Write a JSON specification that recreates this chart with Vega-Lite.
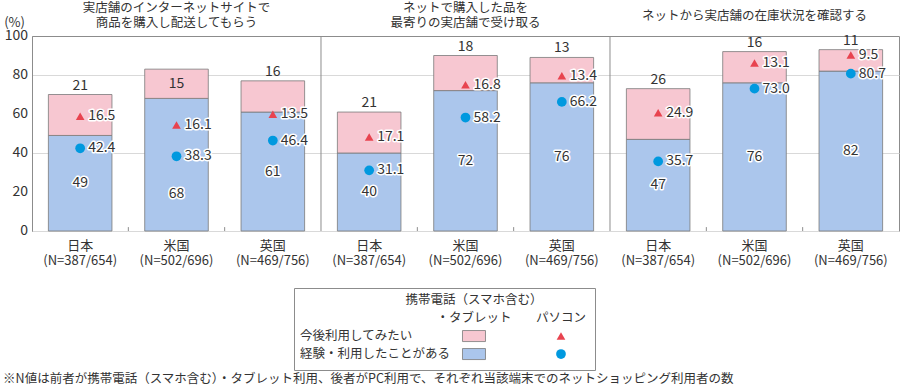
{
  "$schema": "https://vega.github.io/schema/vega-lite/v6.json",
  "padding": {"left": 3, "top": 1, "right": 2, "bottom": 0},
  "config": {
    "font": "Noto Sans CJK JP",
    "view": {"stroke": "#8c8c8c"},
    "axis": {"labelColor": "#333333", "titleColor": "#333333", "domainColor": "#8c8c8c", "tickColor": "#8c8c8c"},
    "text": {"font": "Noto Sans CJK JP", "color": "#333333"}
  },
  "title": {
    "text": "※N値は前者が携帯電話（スマホ含む）・タブレット利用、後者がPC利用で、それぞれ当該端末でのネットショッピング利用者の数",
    "orient": "bottom", "anchor": "start", "frame": "bounds",
    "fontSize": 12.5, "fontWeight": "normal", "color": "#333333", "offset": 2
  },
  "spacing": 19,
  "vconcat": [
    {
      "width": 867,
      "height": 195,
      "data": {"values": [
        {"pid": 1, "panel": "実店舗のインターネットサイトで|商品を購入し配送してもらう", "country": "日本", "xkey": "1|日本|(N=387/654)", "mExp": 49, "mWant": 21, "pcExp": 42.4, "pcWant": 16.5},
        {"pid": 1, "panel": "実店舗のインターネットサイトで|商品を購入し配送してもらう", "country": "米国", "xkey": "1|米国|(N=502/696)", "mExp": 68, "mWant": 15, "pcExp": 38.3, "pcWant": 16.1},
        {"pid": 1, "panel": "実店舗のインターネットサイトで|商品を購入し配送してもらう", "country": "英国", "xkey": "1|英国|(N=469/756)", "mExp": 61, "mWant": 16, "pcExp": 46.4, "pcWant": 13.5},
        {"pid": 2, "panel": "ネットで購入した品を|最寄りの実店舗で受け取る", "country": "日本", "xkey": "2|日本|(N=387/654)", "mExp": 40, "mWant": 21, "pcExp": 31.1, "pcWant": 17.1},
        {"pid": 2, "panel": "ネットで購入した品を|最寄りの実店舗で受け取る", "country": "米国", "xkey": "2|米国|(N=502/696)", "mExp": 72, "mWant": 18, "pcExp": 58.2, "pcWant": 16.8},
        {"pid": 2, "panel": "ネットで購入した品を|最寄りの実店舗で受け取る", "country": "英国", "xkey": "2|英国|(N=469/756)", "mExp": 76, "mWant": 13, "pcExp": 66.2, "pcWant": 13.4},
        {"pid": 3, "panel": "ネットから実店舗の在庫状況を確認する", "country": "日本", "xkey": "3|日本|(N=387/654)", "mExp": 47, "mWant": 26, "pcExp": 35.7, "pcWant": 24.9},
        {"pid": 3, "panel": "ネットから実店舗の在庫状況を確認する", "country": "米国", "xkey": "3|米国|(N=502/696)", "mExp": 76, "mWant": 16, "pcExp": 73.0, "pcWant": 13.1},
        {"pid": 3, "panel": "ネットから実店舗の在庫状況を確認する", "country": "英国", "xkey": "3|英国|(N=469/756)", "mExp": 82, "mWant": 11, "pcExp": 80.7, "pcWant": 9.5}
      ]},
      "transform": [
        {"calculate": "datum.mExp + datum.mWant", "as": "mTotal"},
        {"calculate": "datum.pcExp + datum.pcWant", "as": "pcTotal"},
        {"calculate": "abs(datum.mExp / 2 - datum.pcExp) < 6 ? datum.mExp * 0.28 : datum.mExp / 2", "as": "expLabelY"},
        {"calculate": "datum.mExp + datum.mWant / 2", "as": "wantMid"},
        {"calculate": "datum.pid === 1 && datum.country === '米国'", "as": "wantInside"},
        {"calculate": "split(datum.panel, '|')", "as": "panelLines"}
      ],
      "encoding": {
        "x": {
          "field": "xkey", "type": "nominal",
          "sort": ["1|日本|(N=387/654)", "1|米国|(N=502/696)", "1|英国|(N=469/756)", "2|日本|(N=387/654)", "2|米国|(N=502/696)", "2|英国|(N=469/756)", "3|日本|(N=387/654)", "3|米国|(N=502/696)", "3|英国|(N=469/756)"],
          "scale": {"paddingInner": 0.34, "paddingOuter": 0.17},
          "axis": {"title": null, "labelExpr": "[split(datum.label, '|')[1], split(datum.label, '|')[2]]", "labelAngle": 0, "labelFontSize": 13, "labelLineHeight": 15, "labelPadding": 8, "ticks": false, "domain": false, "labelColor": "#333333"}
        }
      },
      "layer": [
        {
          "mark": {"type": "bar", "fill": "#abc6ec", "stroke": "#7a7a7a", "strokeWidth": 0.8},
          "encoding": {
            "y": {"field": "mExp", "type": "quantitative", "scale": {"domain": [0, 100]},
              "axis": {"title": "(%)", "titleAngle": 0, "titleAlign": "center", "titleBaseline": "middle", "titleX": -18, "titleY": -14, "titleFontSize": 13, "titleFontWeight": "normal", "values": [0, 20, 40, 60, 80, 100], "labels": false, "grid": true, "gridColor": "#d9d9d9", "ticks": false}}
          }
        },
        {
          "mark": {"type": "bar", "fill": "#f7c7d1", "stroke": "#7a7a7a", "strokeWidth": 0.8},
          "encoding": {"y": {"field": "mExp", "type": "quantitative"}, "y2": {"field": "mTotal"}}
        },
        {
          "data": {"values": [
            {"v": 0, "xkey": "1|日本|(N=387/654)"},
            {"v": 20, "xkey": "1|日本|(N=387/654)"},
            {"v": 40, "xkey": "1|日本|(N=387/654)"},
            {"v": 60, "xkey": "1|日本|(N=387/654)"},
            {"v": 80, "xkey": "1|日本|(N=387/654)"},
            {"v": 100, "xkey": "1|日本|(N=387/654)"}
          ]},
          "mark": {"type": "text", "fontSize": 14, "align": "right", "baseline": "middle", "fill": "#333333"},
          "encoding": {
            "x": {"field": "xkey", "type": "nominal", "bandPosition": -0.32},
            "y": {"field": "v", "type": "quantitative"},
            "text": {"field": "v", "type": "quantitative"}
          }
        },
        {
          "transform": [{"filter": "datum.pid > 1 && datum.country === '日本'"}],
          "mark": {"type": "rule", "color": "#8c8c8c", "strokeWidth": 1},
          "encoding": {"x": {"field": "xkey", "type": "nominal", "bandPosition": -0.2576}, "y": {"datum": 0, "type": "quantitative"}, "y2": {"datum": 100}}
        },
        {
          "transform": [{"filter": "datum.country !== '日本'"}],
          "mark": {"type": "rule", "color": "#8c8c8c", "strokeWidth": 1},
          "encoding": {"x": {"field": "xkey", "type": "nominal", "bandPosition": -0.2576}, "y": {"datum": 0, "type": "quantitative"}, "y2": {"datum": 2}}
        },
        {
          "mark": {"type": "text", "fontSize": 14, "baseline": "middle", "stroke": "white", "strokeWidth": 3, "fill": "white", "strokeJoin": "round"},
          "encoding": {"y": {"field": "expLabelY", "type": "quantitative"}, "text": {"field": "mExp", "type": "quantitative"}}
        },
        {
          "mark": {"type": "text", "fontSize": 14, "baseline": "middle", "fill": "#333333"},
          "encoding": {"y": {"field": "expLabelY", "type": "quantitative"}, "text": {"field": "mExp", "type": "quantitative"}}
        },
        {
          "transform": [{"filter": "!datum.wantInside"}],
          "mark": {"type": "text", "fontSize": 14, "baseline": "alphabetic", "dy": -5, "fill": "#333333"},
          "encoding": {"y": {"field": "mTotal", "type": "quantitative"}, "text": {"field": "mWant", "type": "quantitative"}}
        },
        {
          "transform": [{"filter": "datum.wantInside"}],
          "mark": {"type": "text", "fontSize": 14, "baseline": "middle", "fill": "#333333"},
          "encoding": {"y": {"field": "wantMid", "type": "quantitative"}, "text": {"field": "mWant", "type": "quantitative"}}
        },
        {
          "mark": {"type": "point", "shape": "triangle-up", "filled": true, "fill": "#e8434f", "size": 75, "opacity": 1, "strokeWidth": 0},
          "encoding": {"y": {"field": "pcTotal", "type": "quantitative"}}
        },
        {
          "mark": {"type": "text", "fontSize": 14, "baseline": "middle", "align": "left", "dx": 8, "stroke": "white", "strokeWidth": 3, "fill": "white", "strokeJoin": "round"},
          "encoding": {"y": {"field": "pcTotal", "type": "quantitative"}, "text": {"field": "pcWant", "type": "quantitative", "format": ".1f"}}
        },
        {
          "mark": {"type": "text", "fontSize": 14, "baseline": "middle", "align": "left", "dx": 8, "fill": "#333333"},
          "encoding": {"y": {"field": "pcTotal", "type": "quantitative"}, "text": {"field": "pcWant", "type": "quantitative", "format": ".1f"}}
        },
        {
          "mark": {"type": "point", "shape": "circle", "filled": true, "fill": "#0099df", "size": 95, "opacity": 1, "strokeWidth": 0},
          "encoding": {"y": {"field": "pcExp", "type": "quantitative"}}
        },
        {
          "mark": {"type": "text", "fontSize": 14, "baseline": "middle", "align": "left", "dx": 8, "stroke": "white", "strokeWidth": 3, "fill": "white", "strokeJoin": "round"},
          "encoding": {"y": {"field": "pcExp", "type": "quantitative"}, "text": {"field": "pcExp", "type": "quantitative", "format": ".1f"}}
        },
        {
          "mark": {"type": "text", "fontSize": 14, "baseline": "middle", "align": "left", "dx": 8, "fill": "#333333"},
          "encoding": {"y": {"field": "pcExp", "type": "quantitative"}, "text": {"field": "pcExp", "type": "quantitative", "format": ".1f"}}
        },
        {
          "transform": [{"filter": "datum.country === '米国' && length(datum.panelLines) > 1"}],
          "mark": {"type": "text", "fontSize": 12.5, "baseline": "middle", "align": "center", "lineHeight": 15, "dy": -28, "fill": "#333333"},
          "encoding": {"y": {"datum": 100, "type": "quantitative"}, "text": {"field": "panelLines"}}
        },
        {
          "transform": [{"filter": "datum.country === '米国' && length(datum.panelLines) === 1"}],
          "mark": {"type": "text", "fontSize": 12.5, "baseline": "middle", "align": "center", "lineHeight": 15, "dy": -20, "fill": "#333333"},
          "encoding": {"y": {"datum": 100, "type": "quantitative"}, "text": {"field": "panelLines"}}
        }
      ]
    },
    {
      "spacing": 0,
      "hconcat": [
        {
          "width": 260,
          "height": 82,
          "view": {"stroke": "transparent"},
          "data": {"values": []},
          "mark": {"type": "point", "opacity": 0},
          "encoding": {}
        },
        {
          "width": 301,
          "height": 82,
          "data": {"values": [
            {"kind": "head", "col": "mobile", "row": "h1", "t": "携帯電話（スマホ含む）"},
            {"kind": "head", "col": "mobile", "row": "h2", "t": "・タブレット"},
            {"kind": "head", "col": "pc", "row": "h2", "t": "パソコン"},
            {"kind": "label", "col": "label", "row": "r1", "t": "今後利用してみたい"},
            {"kind": "label", "col": "label", "row": "r2", "t": "経験・利用したことがある"},
            {"kind": "swWant", "col": "mobile", "row": "r1"},
            {"kind": "swExp", "col": "mobile", "row": "r2"},
            {"kind": "tri", "col": "pc", "row": "r1"},
            {"kind": "circ", "col": "pc", "row": "r2"}
          ]},
          "encoding": {
            "x": {"field": "col", "type": "nominal", "scale": {"type": "point", "domain": ["label", "_", "mobile", "pc"], "padding": 0.23, "align": 0.15}, "axis": null},
            "y": {"field": "row", "type": "nominal", "scale": {"type": "point", "domain": ["h1", "h2", "r1", "r2"], "padding": 0.778, "align": 0.43}, "axis": null}
          },
          "layer": [
            {
              "transform": [{"filter": "datum.kind === 'head'"}],
              "mark": {"type": "text", "fontSize": 12.5, "align": "center", "baseline": "middle", "fill": "#333333"},
              "encoding": {"text": {"field": "t"}}
            },
            {
              "transform": [{"filter": "datum.kind === 'label'"}],
              "mark": {"type": "text", "fontSize": 12.5, "align": "left", "baseline": "middle", "fill": "#333333"},
              "encoding": {"text": {"field": "t"}}
            },
            {
              "transform": [{"filter": "datum.kind === 'swWant'"}],
              "mark": {"type": "point", "shape": "M-1,-0.48H1V0.48H-1Z", "filled": true, "fill": "#f7c7d1", "stroke": "#7a7a7a", "strokeWidth": 0.8, "size": 529, "opacity": 1}
            },
            {
              "transform": [{"filter": "datum.kind === 'swExp'"}],
              "mark": {"type": "point", "shape": "M-1,-0.48H1V0.48H-1Z", "filled": true, "fill": "#abc6ec", "stroke": "#7a7a7a", "strokeWidth": 0.8, "size": 529, "opacity": 1}
            },
            {
              "transform": [{"filter": "datum.kind === 'tri'"}],
              "mark": {"type": "point", "shape": "triangle-up", "filled": true, "fill": "#e8434f", "size": 75, "opacity": 1, "strokeWidth": 0}
            },
            {
              "transform": [{"filter": "datum.kind === 'circ'"}],
              "mark": {"type": "point", "shape": "circle", "filled": true, "fill": "#0099df", "size": 95, "opacity": 1, "strokeWidth": 0}
            }
          ]
        }
      ]
    }
  ]
}
